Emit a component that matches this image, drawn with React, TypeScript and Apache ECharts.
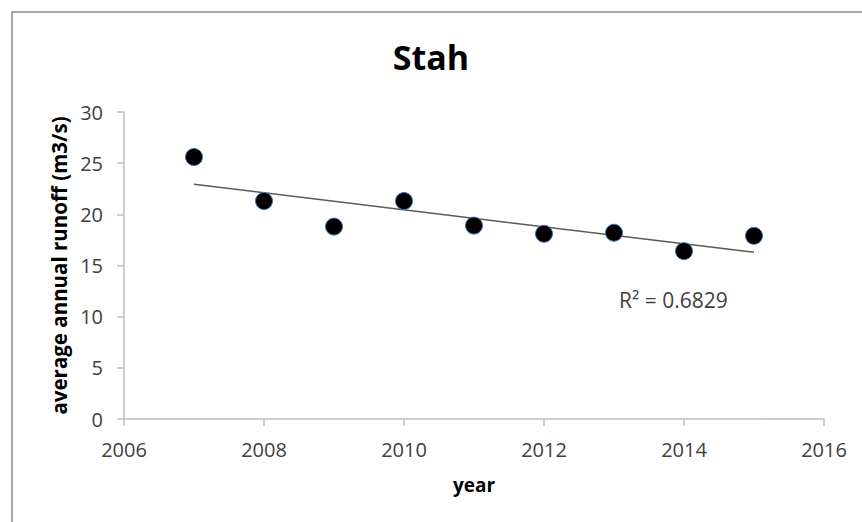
import React, { useEffect, useRef } from "react";
import * as echarts from "echarts";

const chartTitle = "Stah";
const xAxisTitle = "year";
const yAxisTitle = "average annual runoff (m3/s)";
const years = [2007, 2008, 2009, 2010, 2011, 2012, 2013, 2014, 2015];
const runoff = [25.6, 21.3, 18.8, 21.3, 18.9, 18.1, 18.2, 16.4, 17.9];
const r2Label = "R² = 0.6829";
const xMin = 2006, xMax = 2016, xStep = 2;
const yMin = 0, yMax = 30, yStep = 5;

const FONT = "'Open Sans', 'Noto Sans', sans-serif";

function linearFit(xs: number[], ys: number[]) {
  const n = xs.length;
  const mx = xs.reduce((a, b) => a + b, 0) / n;
  const my = ys.reduce((a, b) => a + b, 0) / n;
  let sxy = 0, sxx = 0;
  for (let i = 0; i < n; i++) {
    sxy += (xs[i] - mx) * (ys[i] - my);
    sxx += (xs[i] - mx) * (xs[i] - mx);
  }
  const b = sxy / sxx;
  const a = my - b * mx;
  return (x: number) => a + b * x;
}

export default function App() {
  const ref = useRef<HTMLDivElement>(null);
  useEffect(() => {
    document.body.style.margin = "0";
    const chart = echarts.init(ref.current!, null, { renderer: "svg" });
    const fit = linearFit(years, runoff);
    const x0 = years[0], x1 = years[years.length - 1];
    const axisColor = "#bfbfbf";
    const labelColor = "#404040";
    chart.setOption({
      animation: false,
      backgroundColor: "#ffffff",
      title: {
        text: chartTitle,
        left: "center",
        top: 35,
        textStyle: { fontFamily: FONT, fontSize: 34, fontWeight: "bold", color: "#000" },
      },
      grid: { left: 124, right: 38, top: 112, bottom: 103 },
      xAxis: {
        type: "value",
        min: xMin,
        max: xMax,
        interval: xStep,
        name: xAxisTitle,
        nameLocation: "middle",
        nameGap: 56,
        nameTextStyle: { fontFamily: FONT, fontSize: 19, fontWeight: "bold", color: "#000" },
        axisLine: { show: true, lineStyle: { color: axisColor, width: 1.5 } },
        axisTick: { show: true, length: 7, lineStyle: { color: axisColor, width: 1.5 } },
        axisLabel: {
          fontFamily: FONT,
          fontSize: 20,
          color: labelColor,
          margin: 20,
          formatter: (v: number) => String(v),
        },
        splitLine: { show: false },
      },
      yAxis: {
        type: "value",
        min: yMin,
        max: yMax,
        interval: yStep,
        name: yAxisTitle,
        nameLocation: "middle",
        nameGap: 53,
        nameTextStyle: { fontFamily: FONT, fontSize: 20.5, fontWeight: "bold", color: "#000" },
        axisLine: { show: true, lineStyle: { color: axisColor, width: 1.5 } },
        axisTick: { show: true, length: 7, lineStyle: { color: axisColor, width: 1.5 } },
        axisLabel: { fontFamily: FONT, fontSize: 20, color: labelColor, margin: 21 },
        splitLine: { show: false },
      },
      series: [
        {
          type: "line",
          data: [
            [x0, fit(x0)],
            [x1, fit(x1)],
          ],
          showSymbol: false,
          symbol: "none",
          lineStyle: { color: "#5a5a5a", width: 1.5 },
          silent: true,
          z: 1,
        },
        {
          type: "scatter",
          data: years.map((y, i) => [y, runoff[i]]),
          symbol: "circle",
          symbolSize: 17,
          itemStyle: { color: "#000000", borderColor: "#3d72b0", borderWidth: 1, opacity: 1 },
          z: 3,
        },
      ],
      graphic: [
        {
          type: "rect",
          shape: { x: 12, y: 12, width: 880, height: 540 },
          style: { fill: "none", stroke: "#a6a6a6", lineWidth: 2 },
          silent: true,
        },
        {
          type: "text",
          left: 619,
          top: 289,
          style: { text: r2Label, fontFamily: FONT, fontSize: 21, fill: "#404040" },
        },
      ],
    });
    return () => chart.dispose();
  }, []);
  return <div ref={ref} style={{ width: 862, height: 522 }} />;
}
